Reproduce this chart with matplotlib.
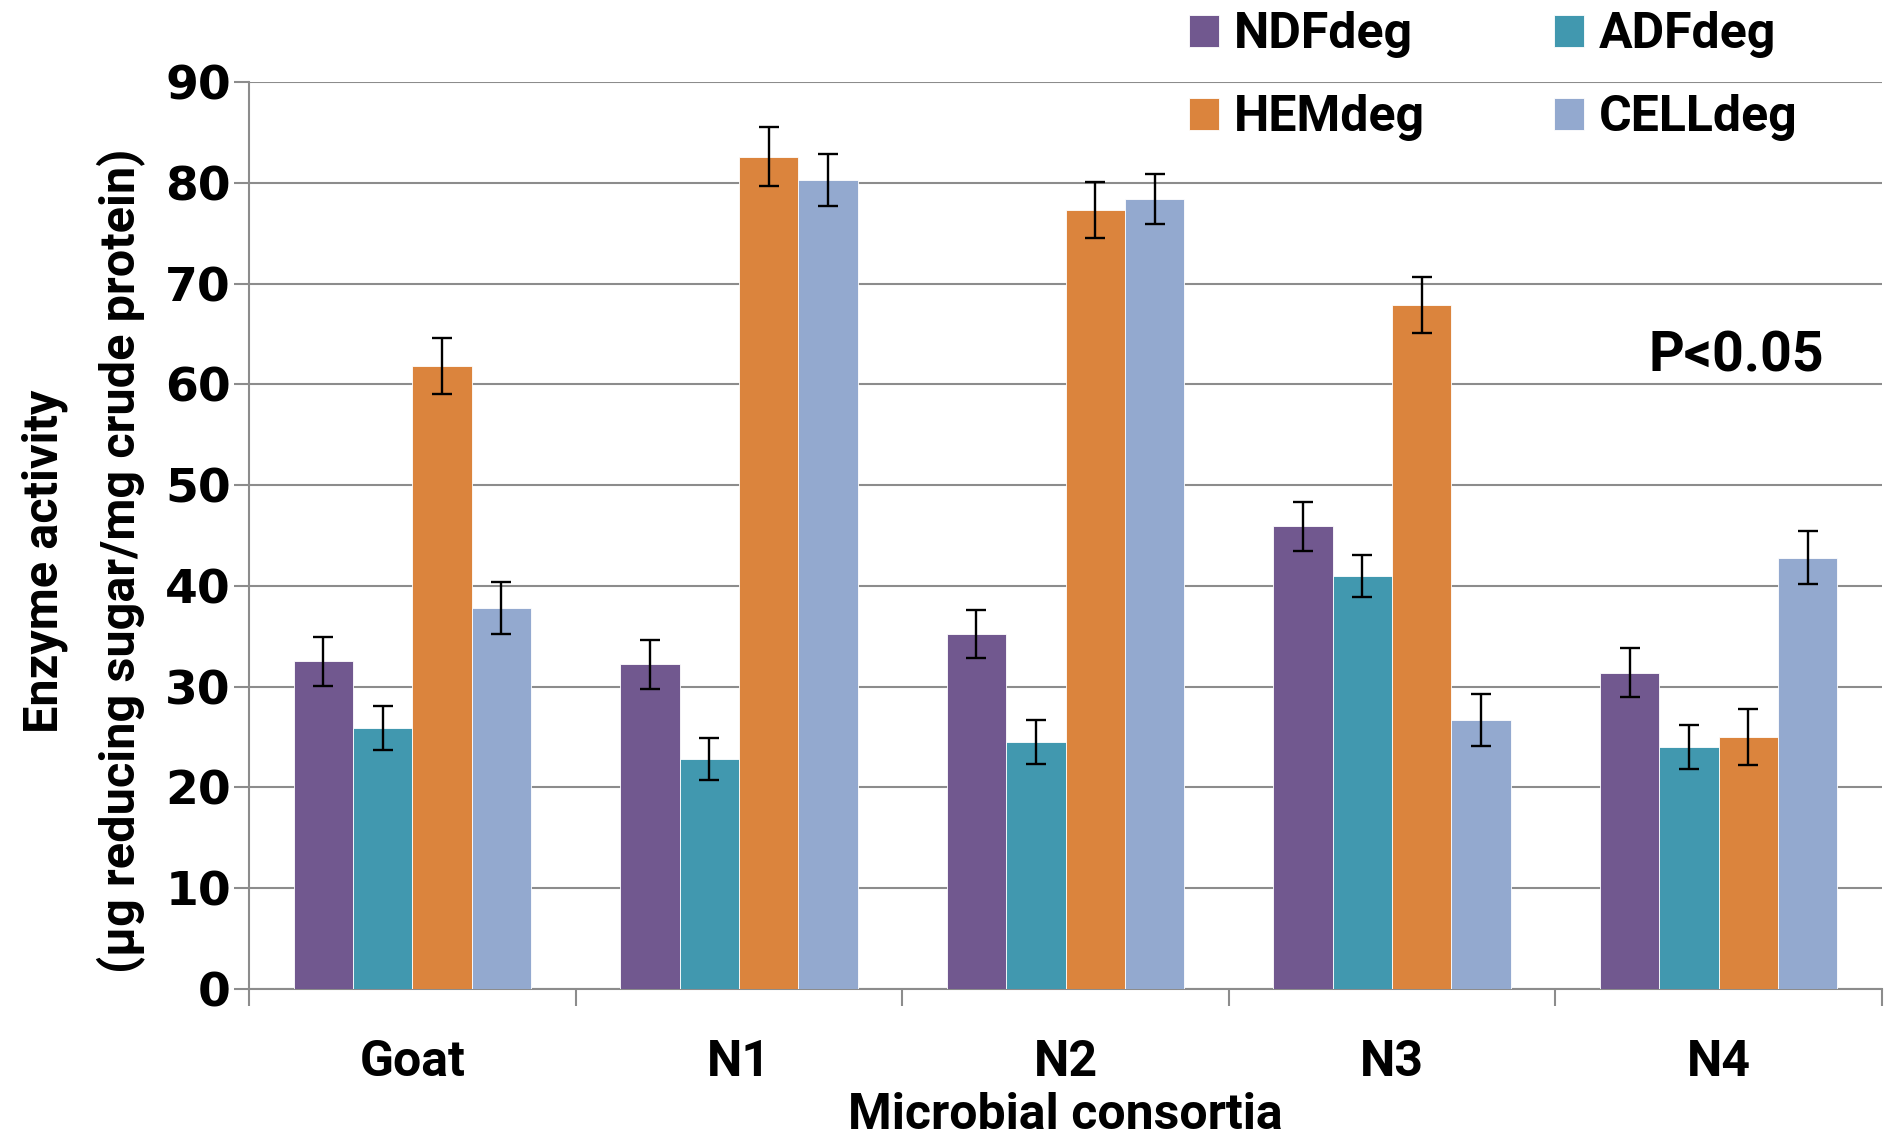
import matplotlib
matplotlib.use("Agg")
import matplotlib.pyplot as plt
import numpy as np

# datos
consorcios = ["Goat", "N1", "N2", "N3", "N4"]
series = ["NDFdeg", "ADFdeg", "HEMdeg", "CELLdeg"]
ndf = [32.5, 32.2, 35.2, 45.9, 31.4]
adf = [25.9, 22.8, 24.5, 41.0, 24.0]
hem = [61.8, 82.6, 77.3, 67.9, 25.0]
cell = [37.8, 80.3, 78.4, 26.7, 42.8]
ndf_err = [2.4, 2.4, 2.4, 2.4, 2.4]
adf_err = [2.2, 2.1, 2.2, 2.1, 2.2]
hem_err = [2.8, 2.9, 2.8, 2.8, 2.8]
cell_err = [2.6, 2.6, 2.5, 2.6, 2.6]
colores = ["#71588F", "#4198AF", "#DB843D", "#93A9CF"]

fuente = "Roboto"

fig = plt.figure(figsize=(18.84, 11.42), dpi=100)
ax = fig.add_axes([249 / 1884, 1 - 989 / 1142, (1882 - 249) / 1884, (989 - 82) / 1142])

x = np.arange(len(consorcios))
w = 0.727 / 4
valores = [ndf, adf, hem, cell]
errores = [ndf_err, adf_err, hem_err, cell_err]
barras = []
for i in range(4):
    b = ax.bar(x + (i - 1.5) * w, valores[i], w, color=colores[i], edgecolor="white",
               linewidth=0.6, zorder=3, label=series[i])
    ax.errorbar(x + (i - 1.5) * w, valores[i], yerr=errores[i], fmt="none", ecolor="black",
                elinewidth=1.7, capsize=7, capthick=1.7, zorder=4)
    barras.append(b)

ax.set_xlim(-0.5, 4.5)
ax.set_ylim(0, 90)
ax.set_yticks(range(0, 91, 10))
ax.yaxis.grid(True, color="#8c8c8c", linewidth=1.5, zorder=0)
ax.set_axisbelow(True)
for s in ["top", "right"]:
    ax.spines[s].set_visible(False)
ax.spines["left"].set_color("#8c8c8c")
ax.spines["bottom"].set_color("#8c8c8c")
ax.spines["left"].set_linewidth(1.5)
ax.spines["bottom"].set_linewidth(1.5)
ax.tick_params(axis="y", length=11, width=1.5, color="#8c8c8c", pad=2)
for t in ax.get_yticklabels():
    t.set_fontfamily("DejaVu Sans")
    t.set_fontweight("bold")
    t.set_fontsize(34)

ax.set_xticks(x)
ax.set_xticklabels(consorcios, fontsize=36, fontweight="bold", family=fuente)
ax.set_xticks(np.arange(-0.5, 5, 1), minor=True)
ax.tick_params(axis="x", which="major", length=0, pad=36)
ax.tick_params(axis="x", which="minor", length=12, width=1.5, color="#8c8c8c")

ax.set_xlabel("Microbial consortia", fontsize=36, fontweight="bold", family=fuente, labelpad=4)
ax.set_ylabel("Enzyme activity\n(µg reducing sugar/mg crude protein)", fontsize=35,
              fontweight="bold", family=fuente, linespacing=1.74)
ax.yaxis.set_label_coords(-0.0635, 0.472)

fig.text(1736 / 1884, 1 - 356 / 1142, "P<0.05", fontsize=40, fontweight="bold",
         family=fuente, ha="center", va="center")

orden = [barras[0], barras[2], barras[1], barras[3]]
ax.legend(orden, [series[0], series[2], series[1], series[3]], ncol=2, frameon=False,
          loc="upper left", bbox_to_anchor=(1189 / 1884, 0.990), bbox_transform=fig.transFigure,
          prop={"family": fuente, "weight": "bold", "size": 36},
          handlelength=0.6, handleheight=0.6, handletextpad=0.3, columnspacing=2.57,
          labelspacing=0.72, borderaxespad=0, borderpad=0)

fig.savefig("out.png", dpi=100)
